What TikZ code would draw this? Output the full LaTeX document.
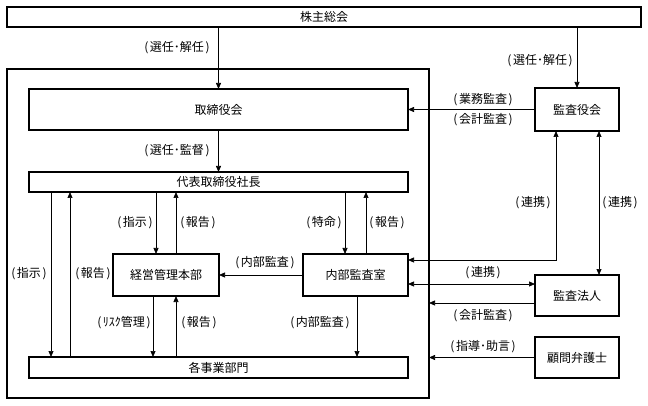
\documentclass[tikz,border=0pt]{standalone}
\usepackage{fontspec}
\setmainfont{Noto Sans CJK JP}
\usetikzlibrary{arrows.meta}
\newcommand{\lb}[1]{(\kern1.6pt#1\kern1.6pt)}
\begin{document}
\begin{tikzpicture}[x=1pt,y=-1pt,
  box/.style={draw,line width=1.1pt,inner sep=0pt,outer sep=0pt,font=\fontsize{12}{14}\selectfont},
  lbl/.style={inner sep=0pt,font=\fontsize{12}{14}\selectfont},
  arr/.style={line width=0.7pt,-{Triangle[length=6pt,width=5pt]}},
  biarr/.style={line width=0.7pt,{Triangle[length=6pt,width=5pt]}-{Triangle[length=6pt,width=5pt]}}]
\useasboundingbox (0,0) rectangle (648,406);
% boxes
\node[box,minimum width=634pt,minimum height=20pt] (kabu) at (324,17) {株主総会};
\node[box,minimum width=422pt,minimum height=329pt] (outer) at (218,233.5) {};
\node[box,minimum width=379pt,minimum height=41pt] (tori) at (218.5,109.5) {取締役会};
\node[box,minimum width=379pt,minimum height=20pt] (daihyo) at (218.5,182) {代表取締役社長};
\node[box,minimum width=106pt,minimum height=42pt] (keiei) at (166,275) {経営管理本部};
\node[box,minimum width=105pt,minimum height=42pt] (naibu) at (355.5,275) {内部監査室};
\node[box,minimum width=379pt,minimum height=21pt] (kaku) at (218.5,367.5) {各事業部門};
\node[box,minimum width=84pt,minimum height=43pt] (kansa) at (577,109.5) {監査役会};
\node[box,minimum width=84pt,minimum height=41pt] (houjin) at (577,295.5) {監査法人};
\node[box,minimum width=84pt,minimum height=41pt] (komon) at (577,357.5) {顧問弁護士};
% helper coordinates
\coordinate (d1) at ([xshift=22pt]kaku.north west);
\coordinate (d2) at ([xshift=41pt]kaku.north west);
\coordinate (k1) at ([xshift=43pt]keiei.north west);
\coordinate (k2) at ([xshift=63pt]keiei.north west);
\coordinate (k3) at ([xshift=40pt]keiei.south west);
\coordinate (k4) at ([xshift=63pt]keiei.south west);
\coordinate (n1) at ([xshift=42pt]naibu.north west);
\coordinate (n2) at ([xshift=63pt]naibu.north west);
\coordinate (n3) at ([xshift=54pt]naibu.south west);
\coordinate (nr1) at ([yshift=-6pt]naibu.north east);
\coordinate (nr2) at ([yshift=12pt]naibu.south east);
\coordinate (ks1) at ([xshift=21pt]kansa.south west);
\coordinate (ks2) at ([xshift=64pt]kansa.south west);
\coordinate (hj1) at ([yshift=13pt]houjin.south west);
% connectors
\draw[arr] (tori.north |- kabu.south) -- (tori.north);
\draw[arr] (kansa.north |- kabu.south) -- (kansa.north);
\draw[arr] (kansa.west) -- (kansa.west -| tori.east);
\draw[arr] (tori.south) -- (daihyo.north);
\draw[arr] (d1 |- daihyo.south) -- (d1);
\draw[arr] (d2) -- (d2 |- daihyo.south);
\draw[arr] (k1 |- daihyo.south) -- (k1);
\draw[arr] (k2) -- (k2 |- daihyo.south);
\draw[arr] (n1 |- daihyo.south) -- (n1);
\draw[arr] (n2) -- (n2 |- daihyo.south);
\draw[arr] (naibu.west) -- (keiei.east);
\draw[arr] (k3) -- (k3 |- kaku.north);
\draw[arr] (k4 |- kaku.north) -- (k4);
\draw[arr] (n3) -- (n3 |- kaku.north);
\draw[biarr] (nr1) -- (ks1 |- nr1) -- (ks1);
\draw[biarr] (ks2) -- (ks2 |- houjin.north);
\draw[biarr] (nr2) -- (nr2 -| houjin.west);
\draw[arr] (hj1) -- (hj1 -| outer.east);
\draw[arr] (komon.west) -- (komon.west -| outer.east);
% labels
\node[lbl] (l1) at (177,48) {\lb{選任･解任}};
\node[lbl] (l2) at (540,61) {\lb{選任･解任}};
\node[lbl] (l3) at (483,100) {\lb{業務監査}};
\node[lbl] (l4) at (483,120) {\lb{会計監査}};
\node[lbl] (l5) at (177,151) {\lb{選任･監督}};
\node[lbl] (l6) at (135,223) {\lb{指示}};
\node[lbl] (l7) at (198,223) {\lb{報告}};
\node[lbl] (l8) at (324,223) {\lb{特命}};
\node[lbl] (l9) at (387,223) {\lb{報告}};
\node[lbl] (l10) at (29,274) {\lb{指示}};
\node[lbl] (l11) at (93,274) {\lb{報告}};
\node[lbl] (l12) at (265,263) {\lb{内部監査}};
\node[lbl] (l13) at (533,203) {\lb{連携}};
\node[lbl] (l14) at (620,203) {\lb{連携}};
\node[lbl] (l15) at (483,273) {\lb{連携}};
\node[lbl] (l16) at (483,316) {\lb{会計監査}};
\node[lbl] (l17) at (483,347) {\lb{指導･助言}};
\node[lbl] (l18) at (124,323) {\lb{ﾘｽｸ管理}};
\node[lbl] (l19) at (199,323) {\lb{報告}};
\node[lbl] (l20) at (320,323) {\lb{内部監査}};
\end{tikzpicture}
\end{document}
